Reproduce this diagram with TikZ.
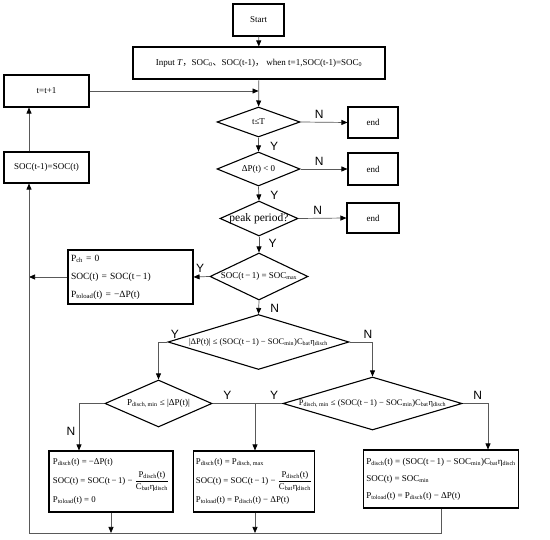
\documentclass[tikz,border=0pt]{standalone}
\usepackage{fontspec}
\setmainfont{Liberation Serif}
\setsansfont{Liberation Sans}
\newfontfamily\cjk{Noto Sans CJK SC}
\usetikzlibrary{arrows.meta, shapes.geometric}
\newcommand\dtxt[1]{\makebox[0pt]{#1}}
\newcommand\sub[1]{\textsubscript{#1}}
\newcommand\Pfrac{$\displaystyle\frac{\mbox{P\sub{disch}(t)}}{\mbox{C\sub{bat}η\sub{disch}}}$}
\newcommand\tmo{(t\,−\,1)}
\begin{document}
\begin{tikzpicture}[x=1pt, y=-1pt,
	box/.style={draw, line width=1.1pt, inner sep=0pt, font=\fontsize{9}{10}\selectfont},
	eqbox/.style={draw, line width=1.1pt, inner sep=3pt, align=left, font=\fontsize{9.5}{18}\selectfont},
	dec/.style={diamond, draw, line width=1.1pt, inner sep=0pt, font=\fontsize{9}{10}\selectfont},
	link/.style={draw=black!65, line width=0.7pt},
	arr/.style={link, -{Triangle[length=6pt, width=5pt, color=black]}},
	yn/.style={font=\sffamily\fontsize{12}{12}\selectfont}]
	\useasboundingbox (0,0) rectangle (550,540);
	\node[box, minimum width=51pt, minimum height=32pt] (start) at (258.5,20) {Start};
	\node[box, minimum width=252pt, minimum height=32pt] (input) at (259,63) {Input \textit{T}{\cjk ，}SOC\sub{0}{\cjk 、}SOC(t-1){\cjk ，} when t=1,SOC(t-1)=SOC\sub{0}};
	\node[box, minimum width=85pt, minimum height=32pt] (inc) at (46.5,91) {t=t+1};
	\node[box, minimum width=85pt, minimum height=31pt] (upd) at (46.5,167.5) {SOC(t-1)=SOC(t)};
	\node[dec, minimum width=83pt, minimum height=30pt] (d1) at (258.5,122) {\dtxt{t≤T}};
	\node[dec, minimum width=83pt, minimum height=34pt] (d2) at (258.5,169) {\dtxt{ΔP(t) < 0}};
	\node[dec, minimum width=78pt, minimum height=35pt] (d3) at (259,218.5) {\dtxt{\fontsize{11.5}{12}\selectfont peak period?}};
	\node[box, minimum width=50pt, minimum height=31pt] (end1) at (373,122.5) {end};
	\node[box, minimum width=50pt, minimum height=32pt] (end2) at (373,169) {end};
	\node[box, minimum width=52pt, minimum height=30pt] (end3) at (373,218) {end};
	\node[dec, minimum width=98pt, minimum height=47pt] (d4) at (259,276.5) {\dtxt{SOC\tmo{} = SOC\sub{max}}};
	\node[eqbox, text width=119pt, minimum height=54pt] (chg) at (130.5,277) {P\sub{ch} = 0\\SOC(t) = SOC\tmo\\P\sub{toload}(t) = −ΔP(t)};
	\node[dec, minimum width=181pt, minimum height=55pt, font=\fontsize{8.5}{10}\selectfont] (d5) at (258.5,342) {\dtxt{|ΔP(t)| ≤ (SOC\tmo{} − SOC\sub{min})C\sub{bat}η\sub{disch}}};
	\node[dec, minimum width=107pt, minimum height=47pt] (d6) at (158.5,403.5) {\dtxt{P\sub{disch, min} ≤ |ΔP(t)|}};
	\node[dec, minimum width=179pt, minimum height=53pt, font=\fontsize{8.5}{10}\selectfont] (d7) at (372.5,403.5) {\dtxt{P\sub{disch, min} ≤ (SOC\tmo{} − SOC\sub{min})C\sub{bat}η\sub{disch}}};
	\node[eqbox, minimum width=124pt, minimum height=61pt, inner sep=2pt, font=\fontsize{8.8}{18}\selectfont] (bl) at (111,481.5) {P\sub{disch}(t) = −ΔP(t)\\[1pt]SOC(t) = SOC\tmo{} − \Pfrac\\[1pt]P\sub{toload}(t) = 0};
	\node[eqbox, minimum width=120pt, minimum height=61pt, inner sep=2pt, font=\fontsize{8.8}{18}\selectfont] (bm) at (254,481.5) {P\sub{disch}(t) = P\sub{disch, max}\\[1pt]SOC(t) = SOC\tmo{} − \Pfrac\\[1pt]P\sub{toload}(t) = P\sub{disch}(t) − ΔP(t)};
	\node[eqbox, minimum width=154pt, minimum height=58pt, font=\fontsize{9}{17}\selectfont] (br) at (441,479) {P\sub{disch}(t) = (SOC\tmo{} − SOC\sub{min})C\sub{bat}η\sub{disch}\\SOC(t) = SOC\sub{min}\\P\sub{toload}(t) = P\sub{disch}(t) − ΔP(t)};
	\coordinate (loopl) at (29,533);
	\coordinate (loopr) at (441,533);
	\coordinate (merge) at (255,403.5);
	\draw[arr] (start) -- (input);
	\draw[arr] (input) -- (d1);
	\draw[arr] (inc.east) -- (inc.east -| d1.north);
	\draw[arr] (d1.east) -- node[yn, above, pos=0.4] {N} (end1.west);
	\draw[arr] (d2.east) -- node[yn, above, pos=0.4] {N} (end2.west);
	\draw[arr] (d3.east) -- node[yn, above, pos=0.4] {N} (end3.west);
	\draw[arr] (d1.south) -- node[yn, right=8pt, pos=0.6] {Y} (d2.north);
	\draw[arr] (d2.south) -- node[yn, right=8pt, pos=0.6] {Y} (d3.north);
	\draw[arr] (d3.south) -- node[yn, right=6pt, pos=0.4] {Y} (d4.north);
	\draw[arr] (d4.west) -- node[yn, above left, pos=0.1] {Y} (chg.east);
	\draw[arr] (chg.west) -- (chg.west -| loopl);
	\draw[arr] (d4.south) -- node[yn, right=8pt, pos=0.6] {N} (d5.north);
	\draw[arr] (d5.west) -| node[yn, above right, pos=0.02] {Y} (d6.north);
	\draw[arr] (d5.east) -| node[yn, above, pos=0.4] {N} (d7.north);
	\draw[link] (d6.east) -- node[yn, above, pos=0.35] {Y} (merge);
	\draw[link] (d7.west) -- node[yn, above, pos=0.3] {Y} (merge);
	\draw[arr] (merge) -- (merge |- bm.north);
	\draw[arr] (d6.west) -| node[yn, left, pos=0.8] {N} ([xshift=-32pt]bl.north);
	\draw[arr] (d7.east) -| node[yn, above, pos=0.3] {N} ([xshift=47pt]br.north);
	\draw[arr] (bl.south) -- (bl.south |- loopl);
	\draw[arr] (bm.south -| merge) -- (merge |- loopl);
	\draw[link] (br.south) -- (loopr) -- (loopl);
	\draw[arr] (loopl) -- (loopl |- upd.south);
	\draw[arr] (loopl |- upd.north) -- (loopl |- inc.south);
\end{tikzpicture}
\end{document}
